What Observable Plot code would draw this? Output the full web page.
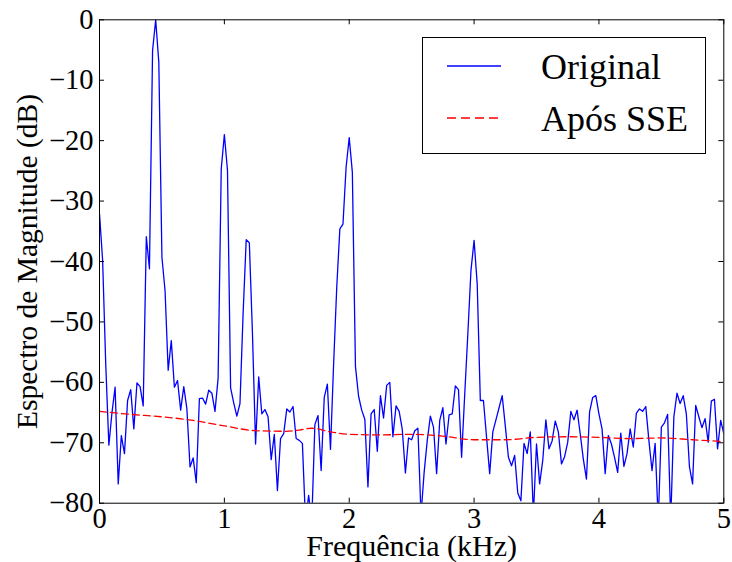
<!DOCTYPE html>
<html>
<head>
<meta charset="utf-8">
<script src="https://cdn.jsdelivr.net/npm/d3@7"></script>
<script src="https://cdn.jsdelivr.net/npm/@observablehq/plot@0.6"></script>
<style>
  html, body { margin: 0; padding: 0; background: #fff; }
  #chart svg { display: block; }
  #chart svg, #chart svg text { font-family: "Liberation Serif", "DejaVu Serif", "Times New Roman", serif !important; }
</style>
</head>
<body>
<div id="chart"></div>
<script>
// Blue series: "Original", sampled every 0.025 kHz from 0 to 5 kHz
const freqStep = 0.025;
const originalDb = [
  -32.1, -39.8, -57.0, -70.4, -65.0, -60.8, -76.8, -68.8, -71.8, -63.0,
  -61.2, -67.7, -60.1, -60.7, -63.9, -35.9, -41.2, -5.1, 0.0, -7.0,
  -39.3, -44.8, -58.0, -53.1, -60.8, -59.7, -64.6, -60.7, -64.4, -74.0,
  -72.5, -76.6, -62.7, -62.6, -63.6, -61.3, -61.8, -64.8, -59.3, -24.7,
  -19.0, -24.9, -60.9, -63.4, -65.6, -63.5, -48.7, -36.4, -36.9, -51.9,
  -70.2, -59.1, -65.2, -64.5, -65.7, -72.8, -68.6, -77.9, -69.3, -68.5,
  -64.4, -64.9, -64.0, -69.3, -69.6, -70.1, -83.0, -78.7, -83.0, -67.0,
  -65.5, -74.6, -62.5, -60.3, -71.1, -57.0, -44.3, -34.6, -33.8, -24.4,
  -19.5, -25.2, -57.4, -62.3, -64.6, -66.1, -77.3, -65.2, -64.5, -71.4,
  -62.2, -65.9, -60.5, -60.0, -69.0, -63.9, -64.8, -67.8, -75.0, -69.2,
  -69.5, -68.0, -67.6, -82.0, -74.9, -69.6, -65.6, -67.4, -75.1, -66.3,
  -64.2, -70.2, -65.4, -65.2, -60.6, -61.2, -72.4, -62.0, -52.0, -41.5,
  -36.5, -43.7, -63.0, -63.0, -69.1, -75.1, -68.2, -66.2, -64.2, -62.2,
  -67.2, -72.4, -73.8, -72.1, -78.3, -79.6, -70.1, -71.8, -68.2, -82.0,
  -70.2, -76.8, -72.9, -66.2, -71.0, -69.7, -66.4, -68.2, -73.5, -72.3,
  -69.9, -64.8, -66.2, -64.6, -68.5, -72.7, -76.0, -64.9, -62.5, -62.2,
  -65.2, -67.7, -75.1, -68.8, -70.2, -72.4, -74.9, -68.4, -73.9, -71.8,
  -67.7, -70.7, -65.1, -64.4, -64.8, -64.0, -69.6, -74.6, -70.1, -83.0,
  -67.4, -66.7, -65.3, -83.0, -65.7, -61.8, -63.5, -62.2, -65.2, -74.0,
  -76.8, -63.8, -65.7, -67.5, -66.0, -69.9, -63.1, -62.8, -71.0, -66.3,
  -68.5
];
const originalFreq = originalDb.map((_, i) => +(i * freqStep).toFixed(3));

// Red dashed series: "Após SSE"
const sseFreq = [0, 0.25, 0.5, 0.75, 1.0, 1.25, 1.5, 1.6, 1.7, 1.85, 2.0, 2.25, 2.5, 2.75, 3.0, 3.25, 3.5, 3.75, 4.0, 4.25, 4.5, 4.75, 5.0];
const sseDb   = [-64.8, -65.3, -65.7, -66.3, -67.2, -68.0, -68.1, -67.9, -67.6, -68.2, -68.6, -68.7, -68.6, -68.9, -69.5, -69.5, -69.1, -69.0, -69.1, -69.3, -69.2, -69.5, -69.8];

const xTicks = [0, 1, 2, 3, 4, 5];
const yTicks = [-80, -70, -60, -50, -40, -30, -20, -10, 0];
const xLabel = "Frequência (kHz)";
const yLabel = "Espectro de Magnitude (dB)";
const legendLabels = ["Original", "Após SSE"];

const original = originalFreq.map((f, i) => ({f, db: originalDb[i]}));
const sse = sseFreq.map((f, i) => ({f, db: sseDb[i]}));

const W = 732, H = 562;
const mL = 99, mR = 8.7, mT = 19.3, mB = 59.3;
const plotW = W - mL - mR, plotH = H - mT - mB;
const tickLen = 5;
const font = "Liberation Serif, DejaVu Serif, Times New Roman, serif";

const chart = Plot.plot({
  width: W,
  height: H,
  marginLeft: mL,
  marginRight: mR,
  marginTop: mT,
  marginBottom: mB,
  style: {fontFamily: font, background: "white", color: "black"},
  x: {domain: [0, 5]},
  y: {domain: [-80, 0]},
  marks: [
    Plot.line(original, {x: "f", y: "db", stroke: "#0000ff", strokeWidth: 1.3, clip: true}),
    Plot.line(sse, {x: "f", y: "db", stroke: "#ff0000", strokeWidth: 1.3, strokeDasharray: "7,4", curve: "monotone-x", clip: true}),
    // inward ticks on all four sides
    Plot.tickX(xTicks, {x: d => d, stroke: "black", insetTop: plotH - tickLen}),
    Plot.tickX(xTicks, {x: d => d, stroke: "black", insetBottom: plotH - tickLen}),
    Plot.tickY(yTicks, {y: d => d, stroke: "black", insetRight: plotW - tickLen}),
    Plot.tickY(yTicks, {y: d => d, stroke: "black", insetLeft: plotW - tickLen}),
    Plot.frame({stroke: "black", strokeWidth: 1}),
    Plot.axisX({ticks: xTicks, tickSize: 0, tickPadding: 5, fontSize: 28.5, label: null, tickFormat: d => String(d)}),
    Plot.axisY({ticks: yTicks, tickSize: 0, tickPadding: 6, fontSize: 28.5, label: null}),
    Plot.text([xLabel], {frameAnchor: "bottom", dy: 52.5, lineAnchor: "bottom", textAnchor: "middle", fontSize: 30, fill: "black"}),
    Plot.text([yLabel], {frameAnchor: "left", dx: -63, rotate: -90, lineAnchor: "bottom", textAnchor: "middle", fontSize: 29.5, fill: "black"})
  ]
});

// Legend box (upper right inside the axes)
const svg = d3.select(chart);
const lg = svg.append("g").attr("font-family", font).attr("text-anchor", "start");
lg.append("rect").attr("x", 422.5).attr("y", 37.5).attr("width", 283).attr("height", 116)
  .attr("fill", "white").attr("stroke", "black").attr("stroke-width", 1);
lg.append("line").attr("x1", 447).attr("x2", 501).attr("y1", 66).attr("y2", 66)
  .attr("stroke", "#0000ff").attr("stroke-width", 1.3);
lg.append("line").attr("x1", 447).attr("x2", 501).attr("y1", 118).attr("y2", 118)
  .attr("stroke", "#ff0000").attr("stroke-width", 1.3).attr("stroke-dasharray", "9,5");
lg.append("text").attr("x", 541).attr("y", 78.5).attr("font-size", 36).attr("fill", "black")
  .attr("text-anchor", "start").text(legendLabels[0]);
lg.append("text").attr("x", 541).attr("y", 131).attr("font-size", 36).attr("fill", "black")
  .attr("text-anchor", "start").text(legendLabels[1]);

svg.selectAll("text").attr("font-family", font);

document.getElementById("chart").appendChild(chart);
</script>
</body>
</html>
